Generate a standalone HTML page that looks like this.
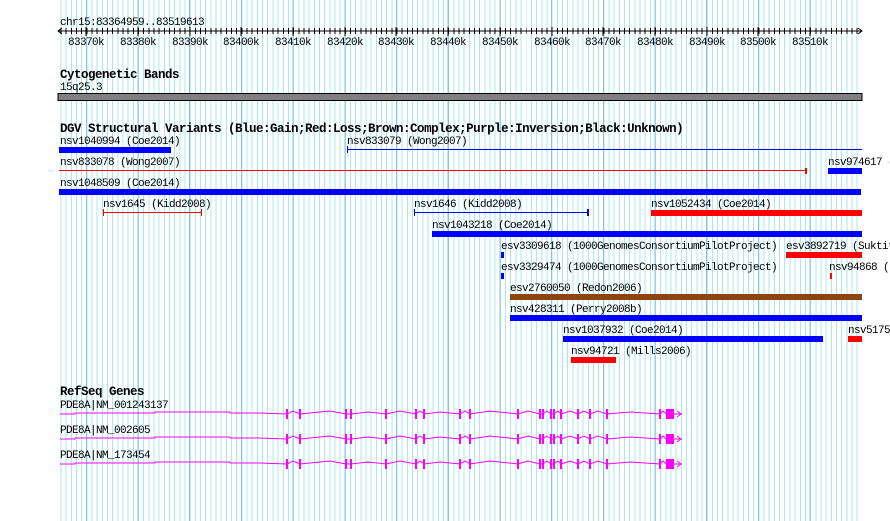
<!DOCTYPE html>
<html><head><meta charset="utf-8"><style>
body{margin:0;background:#fff;}
#w{position:relative;width:890px;height:521px;overflow:hidden;background:#fff;}
#g1{position:absolute;left:58px;top:0;width:801px;height:521px;
background:repeating-linear-gradient(90deg,transparent 0 2.45px,#a8e8ee 2.45px 3.45px,transparent 3.45px 5.17px);}
#g2{position:absolute;left:58px;top:0;width:801px;height:521px;
background:repeating-linear-gradient(90deg,transparent 0 27.8px,#84c4ec 27.8px 28.9px,transparent 28.9px 51.7px);}
#tk{position:absolute;left:58px;top:28px;width:801px;height:6px;
background:repeating-linear-gradient(90deg,transparent 0 2.45px,#000 2.45px 3.45px,transparent 3.45px 5.17px);}
svg{position:absolute;left:0;top:0;}
text{font-family:"Liberation Mono",monospace;font-size:11px;letter-spacing:-0.6px;fill:#000;}
.b{font-weight:bold;font-size:12.5px;letter-spacing:-0.5px;}
</style></head><body><div id="w">
<div id="g1"></div><div id="g2"></div><div id="tk"></div>
<svg width="890" height="521" xmlns="http://www.w3.org/2000/svg">
<text x="60" y="25">chr15:83364959..83519613</text>
<line x1="58" y1="31" x2="862" y2="31" stroke="#000"/>
<polyline points="62,28 58,31 62,34" fill="none" stroke="#000"/>
<polyline points="858,28 862,31 858,34" fill="none" stroke="#000"/>
<g stroke="#000">
<line x1="86" y1="27" x2="86" y2="36"/><line x1="138" y1="27" x2="138" y2="36"/><line x1="190" y1="27" x2="190" y2="36"/><line x1="241" y1="27" x2="241" y2="36"/><line x1="293" y1="27" x2="293" y2="36"/><line x1="345" y1="27" x2="345" y2="36"/><line x1="396" y1="27" x2="396" y2="36"/><line x1="448" y1="27" x2="448" y2="36"/><line x1="500" y1="27" x2="500" y2="36"/><line x1="552" y1="27" x2="552" y2="36"/><line x1="603" y1="27" x2="603" y2="36"/><line x1="655" y1="27" x2="655" y2="36"/><line x1="707" y1="27" x2="707" y2="36"/><line x1="758" y1="27" x2="758" y2="36"/><line x1="810" y1="27" x2="810" y2="36"/>
</g>
<g text-anchor="middle">
<text x="86" y="45">83370k</text><text x="138" y="45">83380k</text><text x="190" y="45">83390k</text><text x="241" y="45">83400k</text><text x="293" y="45">83410k</text><text x="345" y="45">83420k</text><text x="396" y="45">83430k</text><text x="448" y="45">83440k</text><text x="500" y="45">83450k</text><text x="552" y="45">83460k</text><text x="603" y="45">83470k</text><text x="655" y="45">83480k</text><text x="707" y="45">83490k</text><text x="758" y="45">83500k</text><text x="810" y="45">83510k</text>
</g>
<text class="b" x="60" y="78">Cytogenetic Bands</text>
<text x="60" y="90">15q25.3</text>
<rect x="58" y="93.5" width="804" height="7" fill="#808080" stroke="#000" stroke-width="1"/>
<text class="b" x="60" y="132">DGV Structural Variants (Blue:Gain;Red:Loss;Brown:Complex;Purple:Inversion;Black:Unknown)</text>
<text x="60" y="144">nsv1040994 (Coe2014)</text>
<rect x="59" y="147" width="112" height="6" fill="#0000ff"/>
<text x="347" y="144">nsv833079 (Wong2007)</text>
<line x1="347" y1="149.5" x2="862" y2="149.5" stroke="#0000ff"/><line x1="347.5" y1="146" x2="347.5" y2="153" stroke="#0000ff"/>
<text x="60" y="165">nsv833078 (Wong2007)</text>
<line x1="59" y1="170.5" x2="806" y2="170.5" stroke="#ff0000"/><rect x="805" y="168" width="2" height="6" fill="#ff0000"/>
<text x="828" y="165">nsv974617 (</text>
<rect x="828" y="168" width="34" height="6" fill="#0000ff"/>
<text x="60" y="186">nsv1048509 (Coe2014)</text>
<rect x="59" y="189" width="802" height="6" fill="#0000ff"/>
<text x="103" y="207">nsv1645 (Kidd2008)</text>
<line x1="103" y1="212.5" x2="202" y2="212.5" stroke="#ff0000"/><line x1="103.5" y1="209" x2="103.5" y2="216" stroke="#ff0000"/><line x1="201.5" y1="209" x2="201.5" y2="216" stroke="#ff0000"/>
<text x="414" y="207">nsv1646 (Kidd2008)</text>
<line x1="414" y1="212.5" x2="588" y2="212.5" stroke="#0000ff"/><line x1="414.5" y1="209" x2="414.5" y2="216" stroke="#0000ff"/><rect x="587" y="209" width="2" height="7" fill="#0000ff"/>
<text x="651" y="207">nsv1052434 (Coe2014)</text>
<rect x="651" y="210" width="211" height="6" fill="#ff0000"/>
<text x="432" y="228">nsv1043218 (Coe2014)</text>
<rect x="432" y="231" width="430" height="6" fill="#0000ff"/>
<text x="501" y="249">esv3309618 (1000GenomesConsortiumPilotProject)</text>
<rect x="501" y="252" width="3" height="6" fill="#0000ff"/>
<text x="786" y="249">esv3892719 (Suktit</text>
<rect x="786" y="252" width="76" height="6" fill="#ff0000"/>
<text x="501" y="270">esv3329474 (1000GenomesConsortiumPilotProject)</text>
<rect x="501" y="273" width="3" height="6" fill="#0000ff"/>
<text x="829" y="270">nsv94868 (</text>
<rect x="830" y="273" width="2" height="6" fill="#ff0000"/>
<text x="510" y="291">esv2760050 (Redon2006)</text>
<rect x="510" y="294" width="352" height="6" fill="#8b4513"/>
<text x="510" y="312">nsv428311 (Perry2008b)</text>
<rect x="510" y="315" width="352" height="6" fill="#0000ff"/>
<text x="563" y="333">nsv1037932 (Coe2014)</text>
<rect x="563" y="336" width="260" height="6" fill="#0000ff"/>
<text x="848" y="333">nsv5175</text>
<rect x="848" y="336" width="14" height="6" fill="#ff0000"/>
<text x="571" y="354">nsv94721 (Mills2006)</text>
<rect x="571" y="357" width="45" height="6" fill="#ff0000"/>
<text class="b" x="60" y="395">RefSeq Genes</text>
<defs>
<g id="gene">
<polyline fill="none" stroke="#ff00ff" points="60,0 75,0 75,-1 120,-1 155,-1 155,-2 190,-2 230,-2 230,-1 260,-1 287,0 293,-3 300,0 320,-2 330,-3 346,0 351,0 368,-2 386,0 400,-3 416,0 420,-3 424,0 440,-2 460,0 465,-3 470,0 490,-3 518,0 528,-3 540,0 543,0 547,-3 551,0 554,0 558,-3 561,0 570,-3 578,0 584,-3 590,0 598,-3 607,0 630,-2 660,0 663,-3 666,0 682,0"/>
<polyline fill="none" stroke="#ff00ff" points="677,-3 681,0 677,3"/>
<g fill="#ff00ff">
<rect x="286" y="-5" width="2" height="10"/><rect x="299" y="-5" width="2" height="10"/><rect x="345" y="-5" width="2" height="10"/><rect x="350" y="-5" width="2" height="10"/><rect x="385" y="-5" width="2" height="10"/><rect x="415" y="-5" width="2" height="10"/><rect x="423" y="-5" width="2" height="10"/><rect x="459" y="-5" width="2" height="10"/><rect x="469" y="-5" width="2" height="10"/><rect x="517" y="-5" width="2" height="10"/><rect x="539" y="-5" width="2" height="10"/><rect x="542" y="-5" width="2" height="10"/><rect x="550" y="-5" width="2" height="10"/><rect x="553" y="-5" width="2" height="10"/><rect x="560" y="-5" width="2" height="10"/><rect x="577" y="-5" width="2" height="10"/><rect x="589" y="-5" width="2" height="10"/><rect x="606" y="-5" width="2" height="10"/><rect x="659" y="-5" width="2" height="10"/><rect x="666" y="-5" width="8" height="10"/>
</g>
</g>
</defs>
<text x="60" y="408">PDE8A|NM_001243137</text>
<use href="#gene" x="0" y="414"/>
<text x="60" y="433">PDE8A|NM_002605</text>
<use href="#gene" x="0" y="439"/>
<text x="60" y="458">PDE8A|NM_173454</text>
<use href="#gene" x="0" y="464"/>
</svg>
</div></body></html>
